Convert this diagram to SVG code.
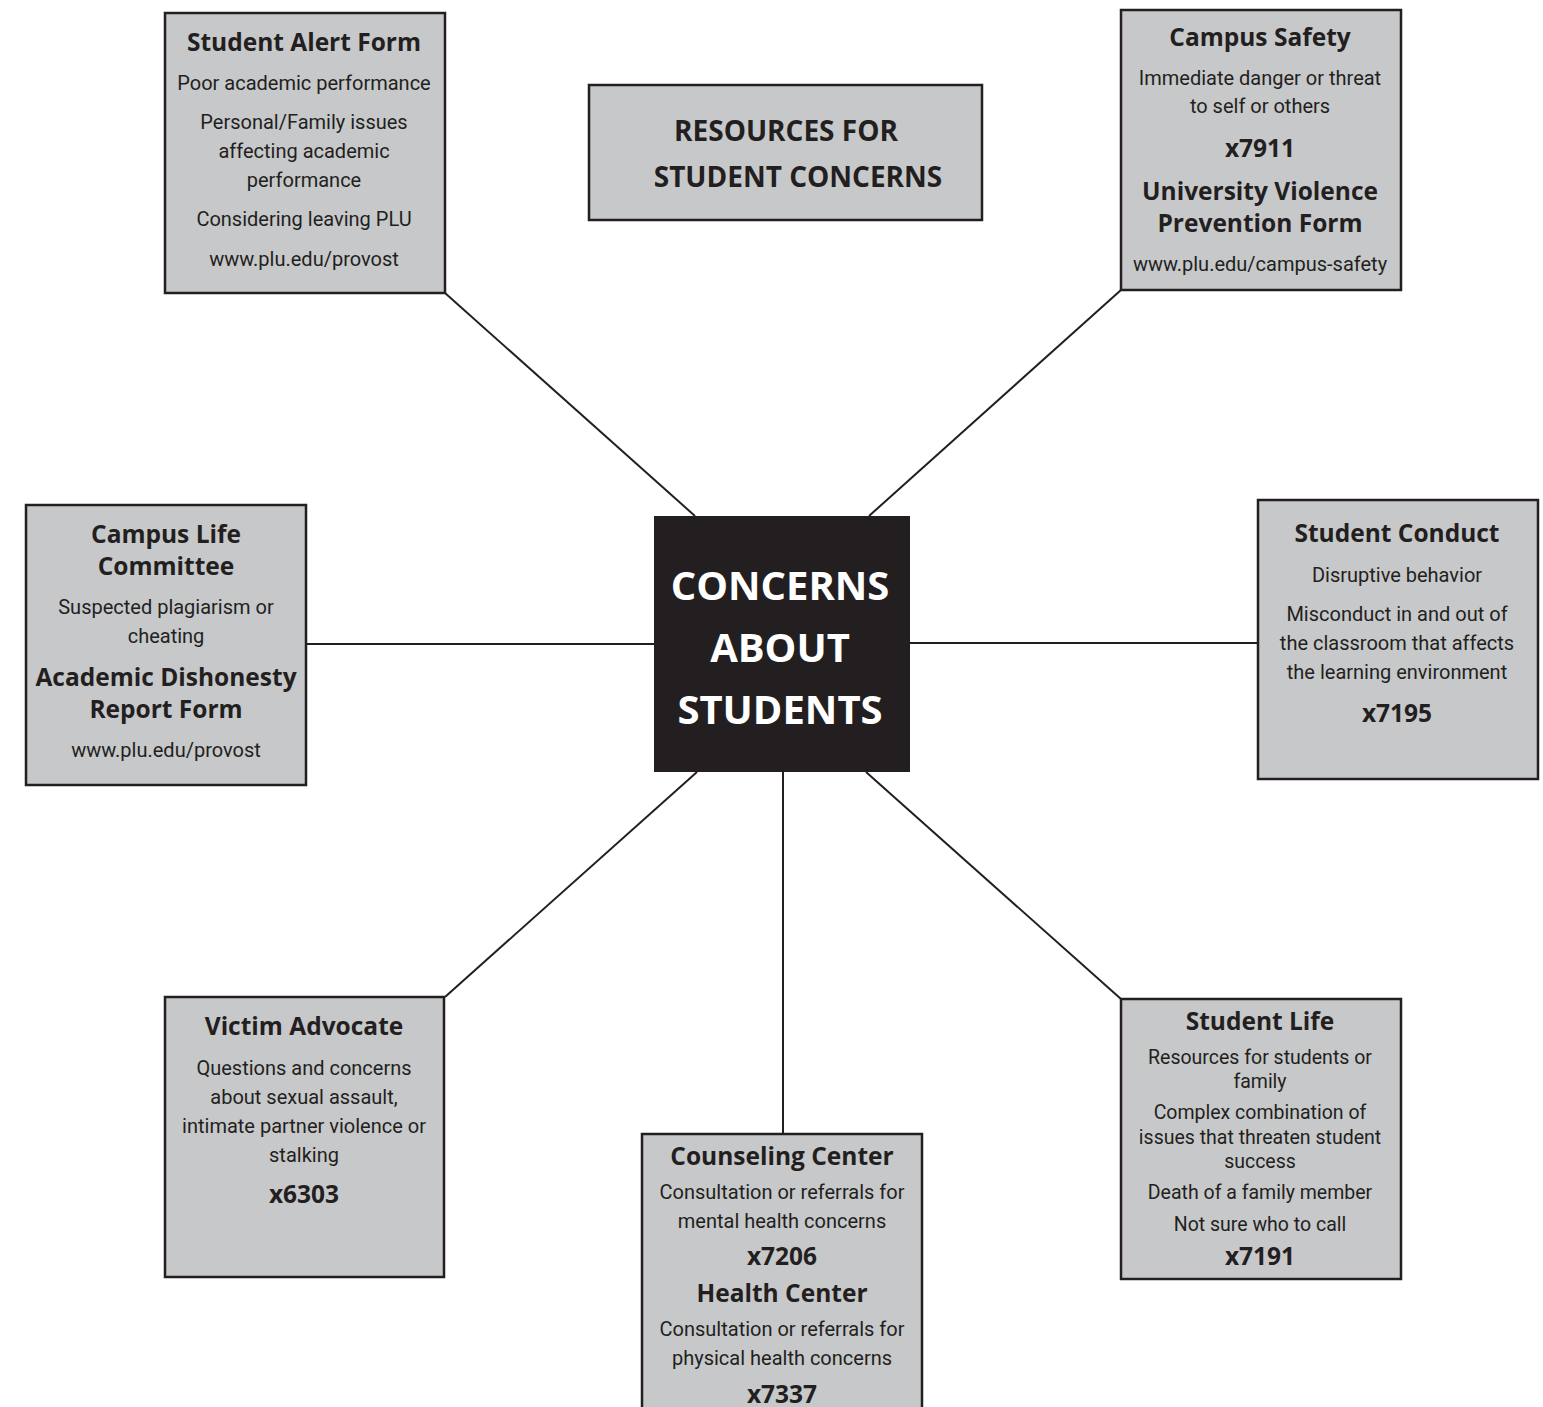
<svg xmlns="http://www.w3.org/2000/svg" width="1543" height="1407" viewBox="0 0 1543 1407">
<style>
.box{fill:#c7c8ca;stroke:#231f20;stroke-width:2.5}
.center{fill:#231f20}
.h{font-family:"Open Sans","Liberation Sans",sans-serif;font-weight:bold;font-size:24.5px;fill:#231f20;text-anchor:middle}
.b{font-family:Roboto,"Liberation Sans",sans-serif;font-size:20px;fill:#231f20;text-anchor:middle}
.bs{font-family:Roboto,"Liberation Sans",sans-serif;font-size:19.5px;fill:#231f20;text-anchor:middle}
.t{font-family:"Open Sans","Liberation Sans",sans-serif;font-weight:bold;font-size:28px;fill:#231f20;text-anchor:middle}
.c{font-family:"Open Sans","Liberation Sans",sans-serif;font-weight:bold;font-size:40px;fill:#ffffff;text-anchor:middle}
.ln{stroke:#231f20;stroke-width:2;fill:none}
</style>
<rect width="1543" height="1407" fill="#ffffff"/>
<g id="connectors">
<line class="ln" x1="445" y1="293" x2="695" y2="516"/>
<line class="ln" x1="1121" y1="290" x2="869" y2="516"/>
<line class="ln" x1="306" y1="644" x2="654" y2="644"/>
<line class="ln" x1="910" y1="643" x2="1258" y2="643"/>
<line class="ln" x1="445" y1="997" x2="697" y2="772"/>
<line class="ln" x1="783" y1="772" x2="783" y2="1134"/>
<line class="ln" x1="866" y1="772" x2="1121" y2="999"/>
</g>
<g id="title">
<rect class="box" x="589" y="85" width="393" height="135"/>
<text class="t" x="786" y="141">RESOURCES FOR</text>
<text class="t" x="798" y="187">STUDENT CONCERNS</text>
</g>
<g id="center">
<rect class="center" x="654" y="516" width="256" height="256"/>
<text class="c" x="780" y="600">CONCERNS</text>
<text class="c" x="780" y="662">ABOUT</text>
<text class="c" x="780" y="724">STUDENTS</text>
</g>
<g id="student-alert">
<rect class="box" x="165" y="13" width="280" height="280"/>
<text class="h" x="304" y="51">Student Alert Form</text>
<text class="b" x="304" y="90">Poor academic performance</text>
<text class="b" x="304" y="129">Personal/Family issues</text>
<text class="b" x="304" y="158">affecting academic</text>
<text class="b" x="304" y="187">performance</text>
<text class="b" x="304" y="226">Considering leaving PLU</text>
<text class="b" x="304" y="266">www.plu.edu/provost</text>
</g>
<g id="campus-safety">
<rect class="box" x="1121" y="10" width="280" height="280"/>
<text class="h" x="1260" y="46">Campus Safety</text>
<text class="b" x="1260" y="85">Immediate danger or threat</text>
<text class="b" x="1260" y="113">to self or others</text>
<text class="h" x="1260" y="157">x7911</text>
<text class="h" x="1260" y="200">University Violence</text>
<text class="h" x="1260" y="232">Prevention Form</text>
<text class="b" x="1260" y="271">www.plu.edu/campus-safety</text>
</g>
<g id="campus-life">
<rect class="box" x="26" y="505" width="280" height="280"/>
<text class="h" x="166" y="543">Campus Life</text>
<text class="h" x="166" y="575">Committee</text>
<text class="b" x="166" y="614">Suspected plagiarism or</text>
<text class="b" x="166" y="643">cheating</text>
<text class="h" x="166" y="686">Academic Dishonesty</text>
<text class="h" x="166" y="718">Report Form</text>
<text class="b" x="166" y="757">www.plu.edu/provost</text>
</g>
<g id="student-conduct">
<rect class="box" x="1258" y="500" width="280" height="279"/>
<text class="h" x="1397" y="542">Student Conduct</text>
<text class="b" x="1397" y="582">Disruptive behavior</text>
<text class="b" x="1397" y="621">Misconduct in and out of</text>
<text class="b" x="1397" y="650">the classroom that affects</text>
<text class="b" x="1397" y="679">the learning environment</text>
<text class="h" x="1397" y="722">x7195</text>
</g>
<g id="victim-advocate">
<rect class="box" x="165" y="997" width="279" height="280"/>
<text class="h" x="304" y="1035">Victim Advocate</text>
<text class="b" x="304" y="1075">Questions and concerns</text>
<text class="b" x="304" y="1104">about sexual assault,</text>
<text class="b" x="304" y="1133">intimate partner violence or</text>
<text class="b" x="304" y="1162">stalking</text>
<text class="h" x="304" y="1203">x6303</text>
</g>
<g id="counseling">
<rect class="box" x="642" y="1134" width="280" height="290"/>
<text class="h" x="782" y="1165">Counseling Center</text>
<text class="b" x="782" y="1199">Consultation or referrals for</text>
<text class="b" x="782" y="1228">mental health concerns</text>
<text class="h" x="782" y="1265">x7206</text>
<text class="h" x="782" y="1302">Health Center</text>
<text class="b" x="782" y="1336">Consultation or referrals for</text>
<text class="b" x="782" y="1365">physical health concerns</text>
<text class="h" x="782" y="1403">x7337</text>
</g>
<g id="student-life">
<rect class="box" x="1121" y="999" width="280" height="280"/>
<text class="h" x="1260" y="1030">Student Life</text>
<text class="bs" x="1260" y="1064">Resources for students or</text>
<text class="bs" x="1260" y="1088">family</text>
<text class="bs" x="1260" y="1119">Complex combination of</text>
<text class="bs" x="1260" y="1144">issues that threaten student</text>
<text class="bs" x="1260" y="1168">success</text>
<text class="bs" x="1260" y="1199">Death of a family member</text>
<text class="bs" x="1260" y="1231">Not sure who to call</text>
<text class="h" x="1260" y="1265">x7191</text>
</g>
</svg>
